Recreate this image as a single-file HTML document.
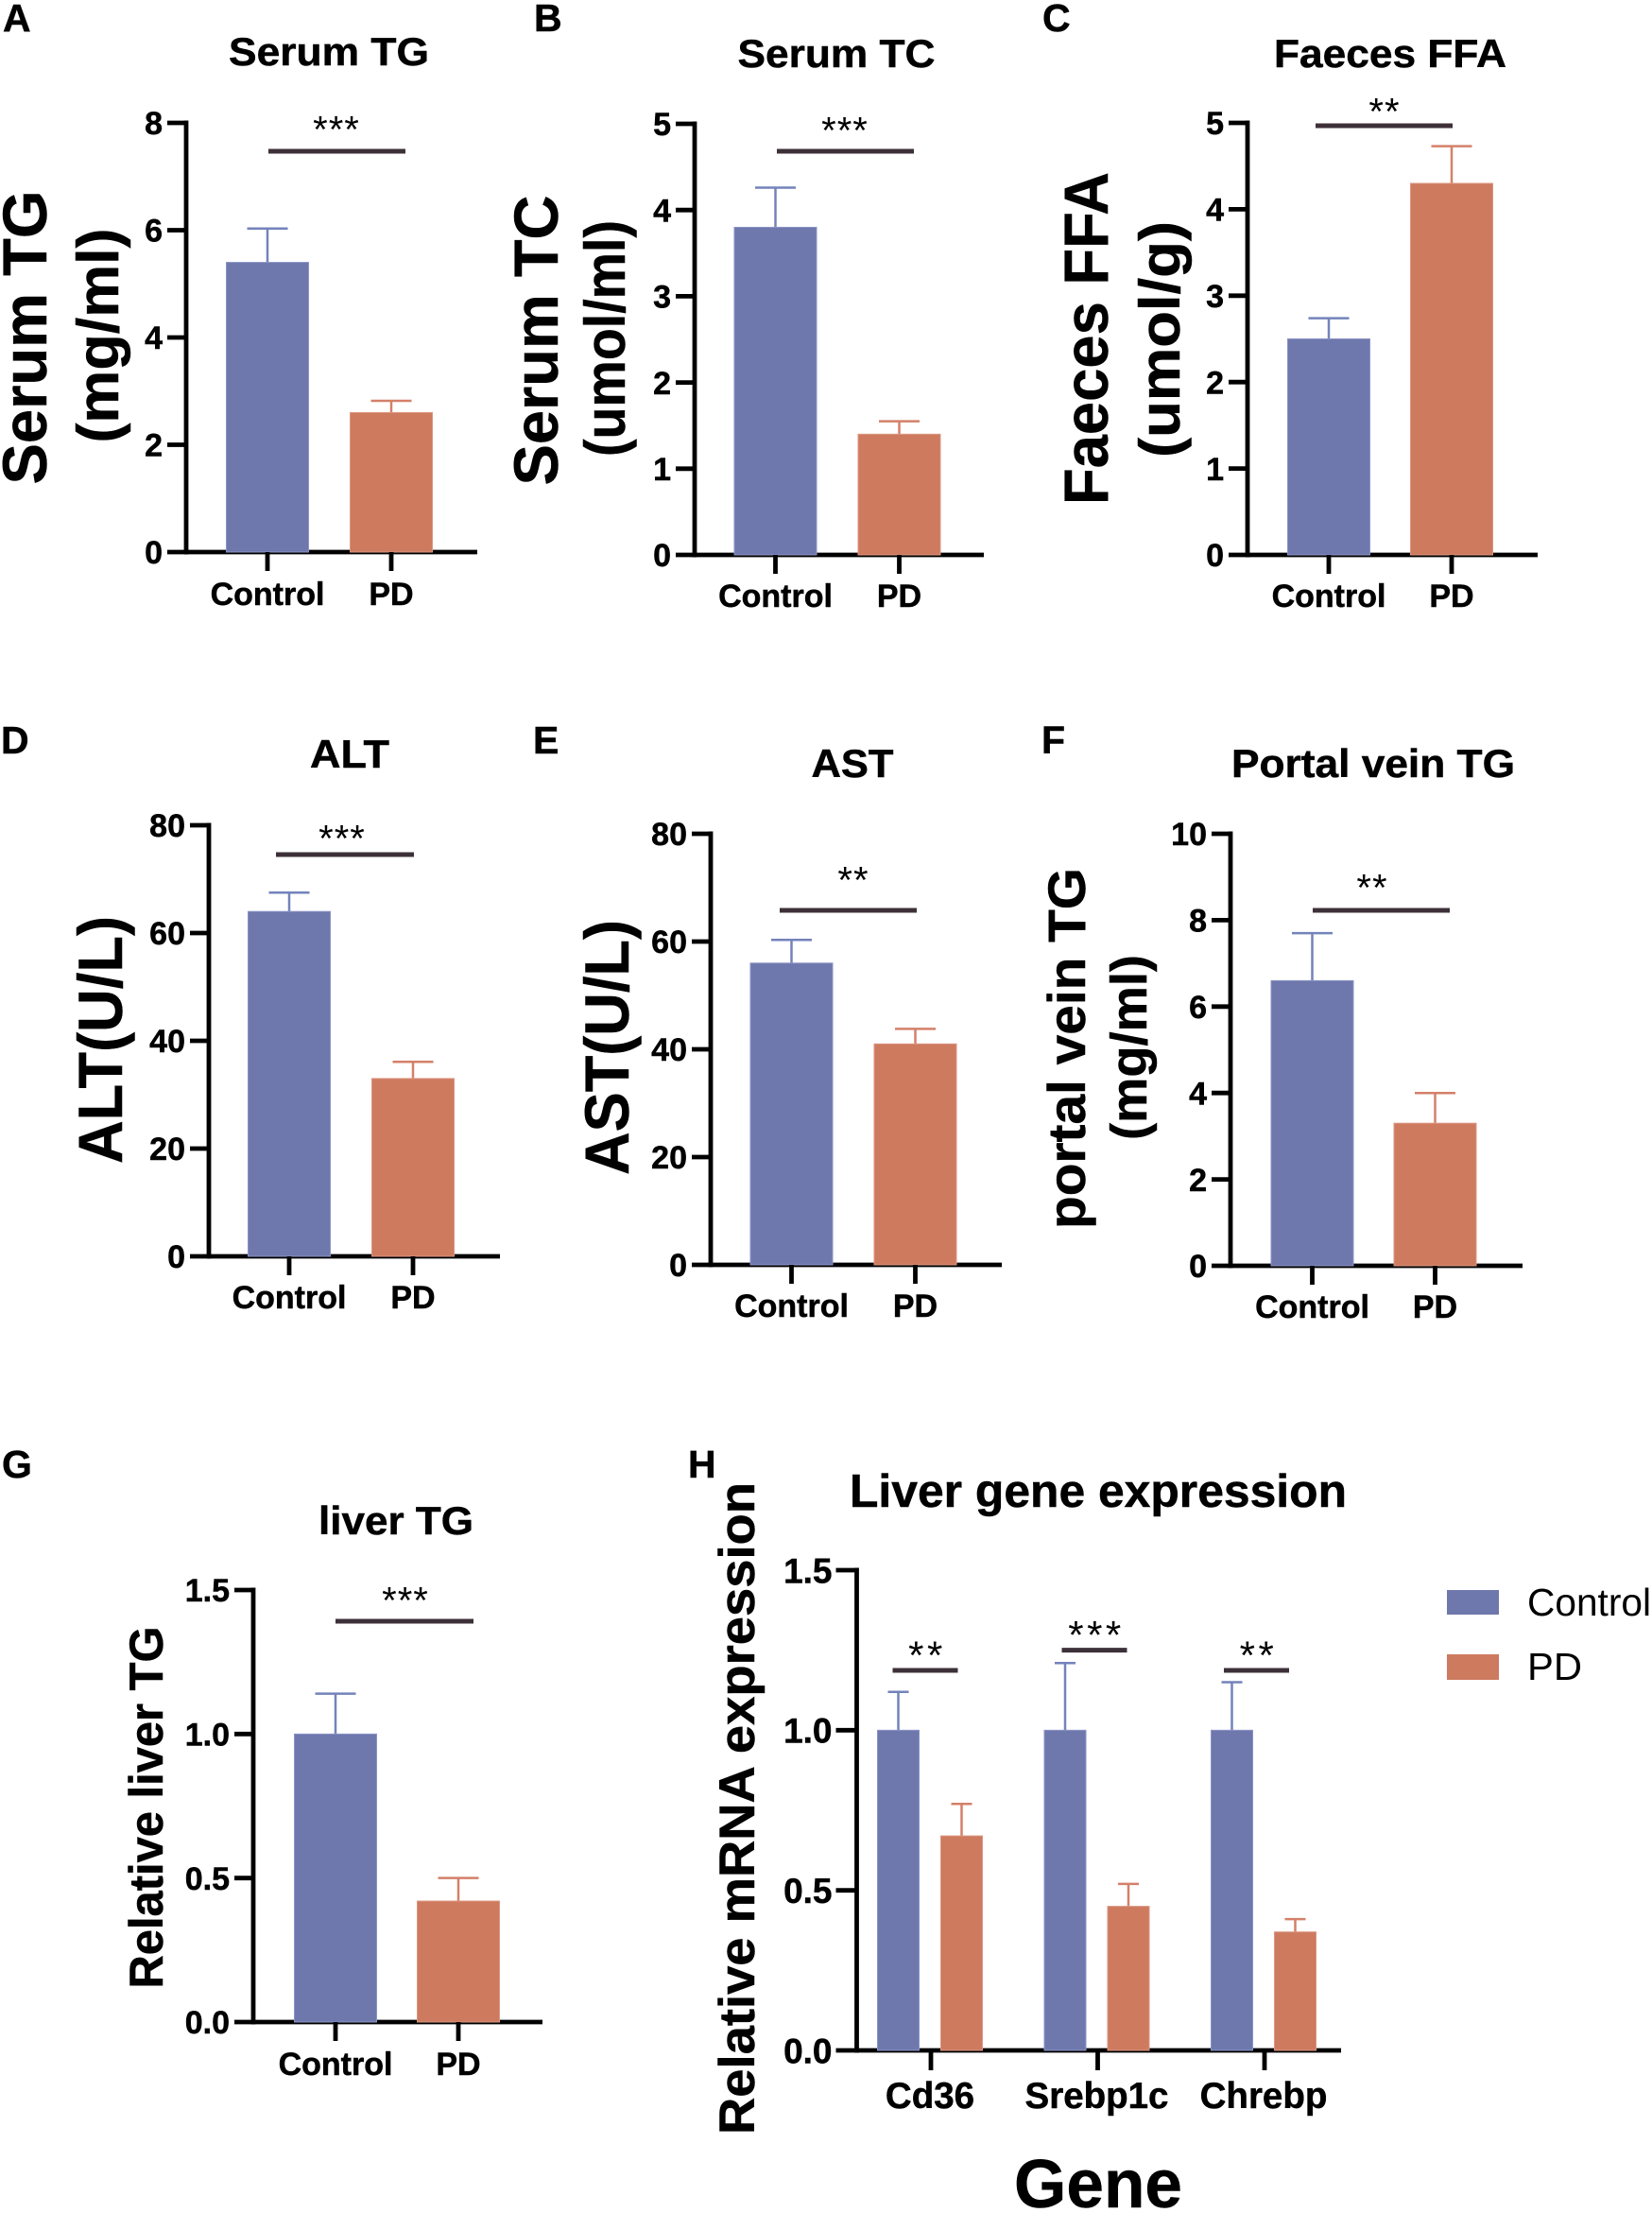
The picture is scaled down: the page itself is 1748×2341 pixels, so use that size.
<!DOCTYPE html>
<html lang="en">
<head>
<meta charset="utf-8">
<title>Lipid and liver measures: Control vs PD</title>
<style>
html,body{margin:0;padding:0;background:#fff;}
svg{display:block;}
text{font-family:"Liberation Sans",Arial,sans-serif;fill:#000;}
.b{font-weight:700;stroke:#000;stroke-width:.5px;}
</style>
</head>
<body>
<svg id="figure" xmlns="http://www.w3.org/2000/svg" width="1748" height="2341" viewBox="0 0 1748 2341">
  <rect x="0" y="0" width="1748" height="2341" fill="#fff"/>

  <g font-size="41">
    <text class="b" x="3" y="33">A</text>
    <text class="b" x="565" y="33">B</text>
    <text class="b" x="1103" y="33">C</text>
    <text class="b" x="1" y="797">D</text>
    <text class="b" x="564" y="797">E</text>
    <text class="b" x="1102" y="797">F</text>
    <text class="b" x="2" y="1563">G</text>
    <text class="b" x="728" y="1563">H</text>
  </g>

  <g text-anchor="middle" font-size="42">
    <text class="b" x="348" y="69" textLength="212" lengthAdjust="spacingAndGlyphs">Serum TG</text>
    <text class="b" x="885" y="71" textLength="209" lengthAdjust="spacingAndGlyphs">Serum TC</text>
    <text class="b" x="1471" y="71" textLength="246" lengthAdjust="spacingAndGlyphs">Faeces FFA</text>
    <text class="b" x="370" y="812" textLength="84" lengthAdjust="spacingAndGlyphs">ALT</text>
    <text class="b" x="902" y="822" textLength="87" lengthAdjust="spacingAndGlyphs">AST</text>
    <text class="b" x="1453" y="822" textLength="300" lengthAdjust="spacingAndGlyphs">Portal vein TG</text>
    <text class="b" x="419" y="1623" textLength="164" lengthAdjust="spacingAndGlyphs">liver TG</text>
    <text class="b" x="1162" y="1594" textLength="526" lengthAdjust="spacingAndGlyphs" font-size="49">Liver gene expression</text>
  </g>

  <g text-anchor="middle">
    <text class="b" transform="translate(49,357) rotate(-90)" font-size="66" textLength="311" lengthAdjust="spacingAndGlyphs">Serum TG</text>
    <text class="b" transform="translate(125,355) rotate(-90)" font-size="62" textLength="227" lengthAdjust="spacingAndGlyphs">(mg/ml)</text>
    <text class="b" transform="translate(590,360) rotate(-90)" font-size="66" textLength="307" lengthAdjust="spacingAndGlyphs">Serum TC</text>
    <text class="b" transform="translate(661,358) rotate(-90)" font-size="60" textLength="250" lengthAdjust="spacingAndGlyphs">(umol/ml)</text>
    <text class="b" transform="translate(1172,358) rotate(-90)" font-size="66" textLength="352" lengthAdjust="spacingAndGlyphs">Faeces FFA</text>
    <text class="b" transform="translate(1248,359) rotate(-90)" font-size="60" textLength="250" lengthAdjust="spacingAndGlyphs">(umol/g)</text>
    <text class="b" transform="translate(129,1100) rotate(-90)" font-size="66" textLength="262" lengthAdjust="spacingAndGlyphs">ALT(U/L)</text>
    <text class="b" transform="translate(665,1108) rotate(-90)" font-size="66" textLength="270" lengthAdjust="spacingAndGlyphs">AST(U/L)</text>
    <text class="b" transform="translate(1148,1109) rotate(-90)" font-size="56" textLength="382" lengthAdjust="spacingAndGlyphs">portal vein TG</text>
    <text class="b" transform="translate(1213,1108) rotate(-90)" font-size="54" textLength="196" lengthAdjust="spacingAndGlyphs">(mg/ml)</text>
    <text class="b" transform="translate(172,1912) rotate(-90)" font-size="50" textLength="383" lengthAdjust="spacingAndGlyphs">Relative liver TG</text>
    <text class="b" transform="translate(798,1913) rotate(-90)" font-size="53" textLength="690" lengthAdjust="spacingAndGlyphs">Relative mRNA expression</text>
  </g>

  <text class="b" x="1162" y="2335" text-anchor="middle" font-size="72" textLength="178" lengthAdjust="spacingAndGlyphs">Gene</text>

  <g>
    <rect x="1531" y="1682" width="55" height="26" fill="#6f78ac"/>
    <text x="1616" y="1709" font-size="41" textLength="131" lengthAdjust="spacingAndGlyphs">Control</text>
    <rect x="1531" y="1750" width="55" height="27" fill="#cd7a5f"/>
    <text x="1616" y="1777" font-size="41" textLength="58" lengthAdjust="spacingAndGlyphs">PD</text>
  </g>

  <g id="charts"></g>
</svg>

<script>
// ---------- chart values ----------
const groups = ['Control', 'PD'];

const serumTgMeans = [5.4, 2.6];
const serumTgErrors = [0.63, 0.22];
const serumTgTicks = [0, 2, 4, 6, 8];

const serumTcMeans = [3.8, 1.4];
const serumTcErrors = [0.46, 0.15];
const serumTcTicks = [0, 1, 2, 3, 4, 5];

const faecesFfaMeans = [2.5, 4.3];
const faecesFfaErrors = [0.24, 0.43];
const faecesFfaTicks = [0, 1, 2, 3, 4, 5];

const altMeans = [64, 33];
const altErrors = [3.5, 3.1];
const altTicks = [0, 20, 40, 60, 80];

const astMeans = [56, 41];
const astErrors = [4.3, 2.8];
const astTicks = [0, 20, 40, 60, 80];

const portalTgMeans = [6.6, 3.3];
const portalTgErrors = [1.1, 0.7];
const portalTgTicks = [0, 2, 4, 6, 8, 10];

const liverTgMeans = [1.0, 0.42];
const liverTgErrors = [0.14, 0.08];
const liverTgTicks = ['0.0', '0.5', '1.0', '1.5'];

const genes = ['Cd36', 'Srebp1c', 'Chrebp'];
const geneControlMeans = [1.0, 1.0, 1.0];
const geneControlErrors = [0.12, 0.21, 0.15];
const genePdMeans = [0.67, 0.45, 0.37];
const genePdErrors = [0.10, 0.07, 0.04];
const geneTicks = ['0.0', '0.5', '1.0', '1.5'];
const geneSigLevels = [1.187, 1.25, 1.187];
const geneSigStars = ['**', '***', '**'];

// ---------- drawing ----------
const NS = 'http://www.w3.org/2000/svg';
const root = document.getElementById('charts');
const BLUE = '#6f78ac', ORANGE = '#cd7a5f', BLUE_ERR = '#7383bb', ORANGE_ERR = '#d4806a', SIG = '#3d3038';

function make(tag, parent, props, name) {
  const el = document.createElementNS(NS, tag);
  for (const k in props) el.setAttribute(k, props[k]);
  
  
  parent.appendChild(el);
  return el;
}
function line(parent, x1, y1, x2, y2, stroke, w, name) {
  return make('line', parent, { x1, y1, x2, y2, stroke, 'stroke-width': w }, name);
}
function label(parent, x, y, str, size, anchor, bold, name) {
  const t = make('text', parent, { x, y, 'font-size': size, 'text-anchor': anchor }, name);
  if (bold) t.setAttribute('class', 'b');
  t.textContent = str;
  return t;
}
function axes(g, L, ticks) {
  const top = Number(ticks[ticks.length - 1]);
  const yOf = v => L.base - (v / top) * (L.base - L.top);
  line(g, L.axisX, L.top - 2.5, L.axisX, L.base + 2.5, '#000', L.axisW, 'y-axis-line');
  line(g, L.axisX - L.tickLen, L.base, L.axisEnd, L.base, '#000', L.axisW, 'x-axis-line');
  ticks.forEach(t => {
    const y = yOf(Number(t));
    if (Number(t) !== 0) line(g, L.axisX - L.tickLen, y, L.axisX, y, '#000', L.axisW, 'y-tick');
    label(g, L.axisX - L.labelGap, y + L.tickFont * 0.36, String(t), L.tickFont, 'end', true, 'y-tick-label');
  });
  return yOf;
}
function bar(g, cx, w, value, err, yOf, L, fill, errColor, name) {
  const y = yOf(value);
  const top = yOf(value + err);
  line(g, cx, y, cx, top, errColor, 2.5, name + '-error-stem');
  line(g, cx - L.capW / 2, top, cx + L.capW / 2, top, errColor, 2.5, name + '-error-cap');
  make('rect', g, { x: cx - w / 2, y, width: w, height: L.base - y, fill, stroke: fill === BLUE ? '#8b93c6' : '#dc9680', 'stroke-width': 1 }, name);
}
function sig(g, x1, x2, y, starX, starY, stars, size, spacing) {
  line(g, x1, y, x2, y, SIG, 5, 'significance-line');
  const t = label(g, starX, starY + size * 0.51, stars, size, 'middle', false, 'significance-stars');
  t.setAttribute('letter-spacing', spacing);
}
function twoBarChart(name, means, errors, ticks, L) {
  const g = make('g', root, {}, name);
  const yOf = axes(g, L, ticks);
  means.forEach((m, i) => {
    const cx = L.cat0 + i * L.catStep;
    bar(g, cx, L.barW, m, errors[i], yOf, L, i === 0 ? BLUE : ORANGE, i === 0 ? BLUE_ERR : ORANGE_ERR, 'bar-' + groups[i].toLowerCase());
    line(g, cx, L.base, cx, L.base + L.xTick, '#000', L.axisW, 'x-tick');
    label(g, cx, L.xLabelY, groups[i], L.tickFont, 'middle', true, 'x-tick-label');
  });
  sig(g, L.sigX1, L.sigX2, L.sigY, L.starX, L.starY, L.stars, 40, 1);
}

const single = { axisW: 4.8, tickLen: 20, labelGap: 25, tickFont: 34, barW: 87, capW: 43, catStep: 131, xTick: 20 };

twoBarChart('chart-serum-tg', serumTgMeans, serumTgErrors, serumTgTicks, Object.assign({}, single, {
  axisX: 197, axisEnd: 505, top: 130, base: 584, cat0: 283, xLabelY: 640,
  sigX1: 284, sigX2: 429, sigY: 160, starX: 356, starY: 130, stars: '***' }));

twoBarChart('chart-serum-tc', serumTcMeans, serumTcErrors, serumTcTicks, Object.assign({}, single, {
  axisX: 735, axisEnd: 1041, top: 131, base: 587, cat0: 820.5, xLabelY: 642,
  sigX1: 822, sigX2: 967, sigY: 160, starX: 894, starY: 131, stars: '***' }));

twoBarChart('chart-faeces-ffa', faecesFfaMeans, faecesFfaErrors, faecesFfaTicks, Object.assign({}, single, {
  axisX: 1320, axisEnd: 1627, top: 130, base: 587, cat0: 1406, catStep: 130, xLabelY: 642,
  sigX1: 1392, sigX2: 1537, sigY: 133, starX: 1465, starY: 111, stars: '**' }));

twoBarChart('chart-alt', altMeans, altErrors, altTicks, Object.assign({}, single, {
  axisX: 221, axisEnd: 529, top: 873, base: 1329, cat0: 306, xLabelY: 1384,
  sigX1: 292, sigX2: 438, sigY: 904, starX: 362, starY: 880, stars: '***' }));

twoBarChart('chart-ast', astMeans, astErrors, astTicks, Object.assign({}, single, {
  axisX: 752, axisEnd: 1060, top: 882, base: 1338, cat0: 837.5, xLabelY: 1393,
  sigX1: 825, sigX2: 970, sigY: 963, starX: 903, starY: 924, stars: '**' }));

twoBarChart('chart-portal-vein-tg', portalTgMeans, portalTgErrors, portalTgTicks, Object.assign({}, single, {
  axisX: 1302, axisEnd: 1611, top: 882, base: 1339, cat0: 1388.5, catStep: 130, xLabelY: 1394,
  sigX1: 1389, sigX2: 1534, sigY: 963, starX: 1452, starY: 932, stars: '**' }));

twoBarChart('chart-liver-tg', liverTgMeans, liverTgErrors, liverTgTicks, Object.assign({}, single, {
  axisX: 268, axisEnd: 574, top: 1682, base: 2139, cat0: 355, catStep: 130, xLabelY: 2195,
  sigX1: 355, sigX2: 501, sigY: 1715, starX: 429, starY: 1686, stars: '***' }));

(function geneChart() {
  const L = { axisX: 906.5, axisEnd: 1419, top: 1661, base: 2169, axisW: 4.8, tickLen: 22, labelGap: 26, tickFont: 37, capW: 22,
              c0: 984, step: 176.5, off: 33.5, barW: 44 };
  const g = make('g', root, {}, 'chart-liver-gene-expression');
  const yOf = axes(g, L, geneTicks);
  const sigShift = i => (i === 0 ? -5 : i === 1 ? -2.5 : -7.5);
  genes.forEach((gene, i) => {
    const cx = L.c0 + i * L.step;
    const key = 'bar-' + gene.toLowerCase();
    bar(g, cx - L.off, L.barW, geneControlMeans[i], geneControlErrors[i], yOf, L, BLUE, BLUE_ERR, key + '-control');
    bar(g, cx + L.off, L.barW, genePdMeans[i], genePdErrors[i], yOf, L, ORANGE, ORANGE_ERR, key + '-pd');
    line(g, cx + 1, L.base, cx + 1, L.base + 21, '#000', 4.8, 'x-tick');
    label(g, cx, 2230, gene, 38.5, 'middle', true, 'x-tick-label');
    const sy = yOf(geneSigLevels[i]);
    const mid = cx + sigShift(i);
    sig(g, mid - 34.5, mid + 34.5, sy, mid + 2, sy - 23, geneSigStars[i], 42, 3.5);
  });
})();
</script>
</body>
</html>
